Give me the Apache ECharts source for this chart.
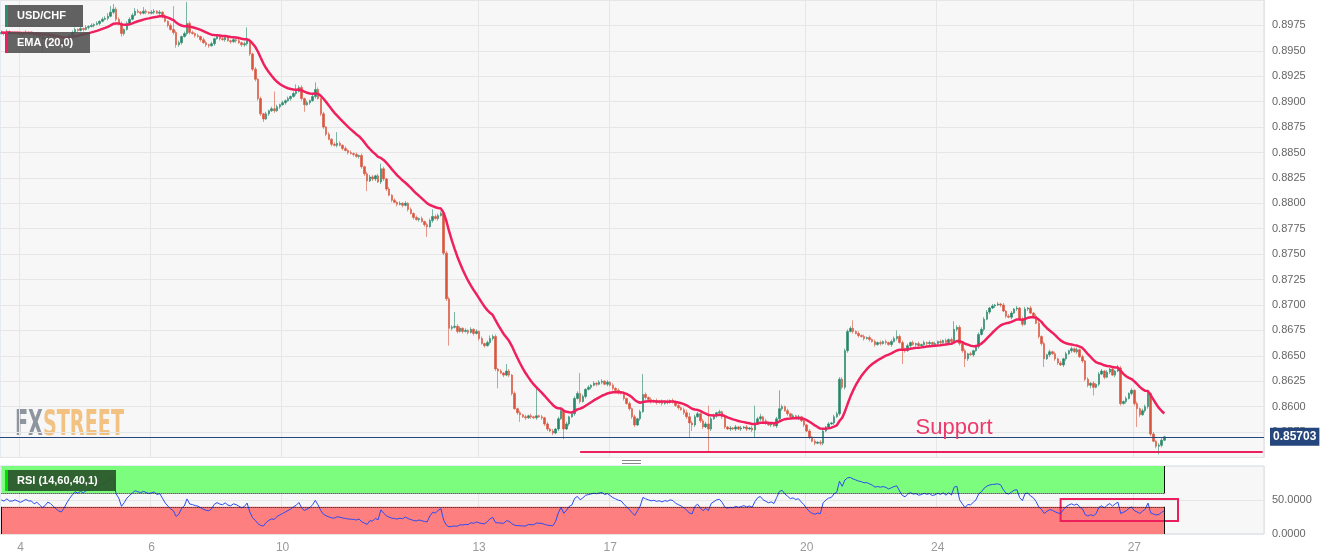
<!DOCTYPE html>
<html><head><meta charset="utf-8">
<script src="https://cdn.jsdelivr.net/npm/echarts@6/dist/echarts.min.js"></script>
<style>html,body{margin:0;padding:0;background:#fff}#c{width:1335px;height:560px}</style>
</head><body><div id="c"></div>
<script>
// ---- data (hourly USD/CHF candles, prices in pips: 8968 = 0.8968) ----
const tradingDays = [3,4,5,6,7,10,11,12,13,14,17,18,19,20,21,24,25,26,27,28];
const firstHour = 17;
const totalSlots = 463;
const tickLabels = ['4','6','10','13','17','20','24','27'];
const firstOpenPips = 8967;
const closePips = [
8968,8967,8969,8967,8967,8968,8967,8966,8967,8968,
8967,8967,8965,8966,8964,8962,8963,8965,8964,8962,
8960,8958,8957,8959,8962,8965,8968,8971,8970,8972,
8971,8973,8974,8975,8976,8977,8979,8981,8982,8984,
8988,8991,8981,8977,8967,8971,8977,8981,8985,8989,
8988,8987,8989,8988,8987,8988,8989,8987,8988,8984,
8979,8975,8971,8968,8956,8958,8964,8967,8977,8968,
8967,8965,8964,8961,8958,8956,8955,8957,8962,8964,
8962,8961,8963,8960,8959,8961,8960,8958,8956,8957,
8960,8947,8932,8922,8903,8888,8883,8888,8891,8893,
8891,8895,8897,8899,8901,8903,8905,8908,8910,8914,
8903,8897,8899,8901,8905,8912,8903,8888,8875,8868,
8863,8858,8857,8859,8857,8854,8852,8850,8849,8848,
8846,8847,8836,8829,8822,8826,8824,8827,8821,8834,
8824,8814,8808,8803,8801,8799,8800,8798,8800,8794,
8790,8786,8784,8785,8782,8779,8777,8783,8787,8785,
8788,8790,8751,8706,8677,8678,8679,8674,8677,8674,
8675,8673,8676,8672,8674,8667,8662,8660,8663,8667,
8669,8637,8635,8633,8631,8635,8631,8613,8598,8594,
8592,8590,8589,8591,8590,8589,8591,8590,8589,8583,
8578,8576,8574,8578,8588,8596,8578,8583,8590,8593,
8608,8613,8605,8610,8617,8619,8621,8623,8622,8624,
8625,8622,8624,8621,8618,8616,8614,8613,8608,8603,
8598,8590,8582,8588,8595,8612,8609,8607,8605,8606,
8604,8605,8603,8605,8604,8606,8605,8601,8599,8597,
8594,8590,8584,8582,8590,8593,8586,8580,8583,8578,
8588,8591,8594,8595,8590,8580,8578,8579,8578,8580,
8578,8579,8580,8578,8579,8577,8583,8588,8590,8586,
8584,8582,8583,8581,8588,8598,8600,8596,8593,8590,
8591,8589,8590,8586,8582,8576,8570,8566,8564,8565,
8564,8576,8580,8583,8584,8590,8593,8627,8619,8655,
8674,8677,8674,8672,8670,8669,8667,8668,8666,8664,
8661,8663,8662,8664,8663,8661,8664,8667,8669,8663,
8657,8655,8660,8663,8661,8662,8660,8661,8663,8662,
8663,8661,8662,8664,8663,8665,8663,8666,8664,8676,
8678,8662,8655,8647,8652,8651,8655,8659,8671,8676,
8686,8693,8697,8699,8700,8701,8700,8694,8689,8688,
8692,8696,8697,8686,8681,8696,8697,8692,8689,8682,
8669,8662,8647,8651,8654,8652,8647,8643,8641,8647,
8652,8655,8657,8654,8656,8649,8645,8627,8621,8623,
8619,8622,8632,8635,8629,8634,8637,8631,8635,8638,
8603,8605,8608,8613,8616,8603,8598,8592,8596,8600,
8613,8573,8566,8561,8562,8567,8570.3];
const wickUpPips = [
2,1,2,1,2,1,1,2,1,2, 1,2,1,2,1,2,1,1,2,1, 2,1,2,1,2,1,2,2,1,2, 1,2,1,2,1,2,1,2,2,3,
6,5,2,2,2,1,2,2,2,3, 2,1,4,2,1,2,2,1,2,1, 2,1,2,23,2,2,1,2,21,2, 2,1,2,1,2,2,1,2,1,2,
1,2,1,2,1,2,1,2,1,2, 13,2,1,2,1,2,1,2,1,2, 17,2,1,2,1,2,1,2,7,2, 2,1,2,1,2,7,2,1,2,1,
2,1,2,11,2,1,2,1,2,1, 2,1,2,1,2,2,2,1,2,5, 2,1,2,1,2,1,2,1,2,1, 2,1,2,1,2,1,2,2,7,2,
2,2,3,2,2,2,14,2,2,1, 2,1,2,1,2,1,2,1,2,3, 2,2,1,2,1,7,2,1,2,1, 2,1,2,1,2,1,29,1,2,1,
2,1,2,1,2,2,1,2,1,2, 2,2,20,2,1,2,1,2,1,2, 2,1,2,1,2,1,2,1,2,1, 2,1,2,1,2,20,2,1,2,1,
2,1,2,1,2,1,2,1,2,1, 2,3,4,2,2,2,1,2,2,18, 2,2,1,2,1,2,1,2,1,2, 1,2,1,2,1,2,18,2,3,1,
2,1,2,1,2,18,2,1,2,1, 2,1,2,1,2,1,2,1,2,1, 2,2,1,2,1,2,2,2,2,2, 2,2,8,1,2,1,2,1,2,1,
2,1,2,1,2,1,2,2,6,2, 2,1,2,1,2,1,2,1,2,1, 2,1,2,1,2,1,2,1,2,8, 2,2,1,2,1,2,1,2,2,2,
2,2,1,2,1,2,1,2,1,2, 2,1,2,1,2,2,1,2,1,2, 2,1,2,1,2,1,2,1,2,1, 2,1,2,1,2,1,2,1,2,1,
2,1,2,2,1,2,1,2,1,3, 2,1,2,1,2,1,2,1,2,2, 2,1,2,1,2,2,1];
const wickDownPips = [
1,2,1,2,1,2,2,1,2,1, 2,1,2,1,2,13,2,1,2,1, 1,2,1,2,1,2,1,1,2,1, 2,1,2,1,2,1,2,1,1,2,
1,2,2,2,3,2,1,2,1,1, 1,2,1,2,1,1,2,1,2,2, 1,2,1,2,3,2,2,1,2,2, 1,2,1,2,1,2,2,1,2,1,
2,1,2,1,2,1,2,1,2,2, 2,2,2,2,2,2,3,1,2,1, 2,1,2,1,2,1,2,1,2,1, 2,7,1,2,1,2,1,2,2,2,
1,2,1,2,1,2,1,2,1,2, 1,2,2,2,10,1,2,2,1,2, 2,2,1,2,1,2,1,2,1,2, 1,2,1,2,1,2,10,1,2,1,
2,1,2,2,17,2,1,2,1,2, 1,2,1,2,1,2,1,2,1,2, 2,2,17,1,2,1,2,2,1,2, 7,1,2,1,2,1,2,1,2,2,
2,1,2,1,2,1,10,1,2,1, 2,1,2,1,2,1,2,1,2,1, 2,1,2,1,2,1,2,1,2,1, 2,2,2,1,2,1,2,1,2,1,
2,1,2,1,2,1,2,1,2,1, 2,2,14,6,2,1,2,2,1,22, 2,1,2,1,2,2,1,2,1,2, 1,2,1,2,1,2,7,1,2,1,
2,1,2,1,2,1,2,1,2,1, 2,1,2,1,2,1,2,1,2,1, 2,2,1,2,1,2,1,2,2,2, 2,1,2,1,2,1,2,1,2,1,
2,1,2,1,2,1,2,1,2,1, 15,2,1,2,1,2,1,2,1,2, 2,1,2,1,2,1,2,1,2,1, 2,2,2,8,2,1,2,1,2,1,
2,1,2,1,2,1,2,1,2,1, 2,1,2,1,2,1,2,1,2,1, 2,2,8,1,2,1,2,2,1,2, 2,1,2,1,2,1,2,2,2,3,
8,1,2,1,2,1,2,1,2,1, 2,1,2,1,2,2,18,2,1,2, 2,2,1,2,8,2,1];
const lastPrice = 0.85703;
const supportLevel = 0.8556;
const emaPeriod = 20;
const rsiPeriod = 14, rsiUpper = 60, rsiLower = 40;

// ---- categories ----
const cats = [];
for (const d of tradingDays) {
  for (let h = (d === tradingDays[0] ? firstHour : 0); h < 24; h++) {
    if (cats.length < totalSlots) cats.push(d + '-' + h);
  }
}
const isTickCat = (v) => { const p = String(v).split('-'); return p[1] === '0' && tickLabels.includes(p[0]); };

// ---- candles ----
const candles = closePips.map((c, i) => {
  const o = i === 0 ? firstOpenPips : closePips[i - 1];
  const hi = Math.max(o, c) + (wickUpPips[i] || 0);
  const lo = Math.min(o, c) - (wickDownPips[i] || 0);
  return [o / 1e4, c / 1e4, lo / 1e4, hi / 1e4];
});
// EMA(20)
const ema = []; const k = 2 / (emaPeriod + 1);
closePips.forEach((c, i) => { const v = c / 1e4; ema.push(i === 0 ? v : ema[i - 1] + k * (v - ema[i - 1])); });
// RSI(14), Wilder smoothing
const rsi = []; let ag = 1.2, al = 1.2;
closePips.forEach((c, i) => {
  if (i === 0) { rsi.push(50); return; }
  const ch = c - closePips[i - 1];
  ag = (ag * (rsiPeriod - 1) + Math.max(ch, 0)) / rsiPeriod;
  al = (al * (rsiPeriod - 1) + Math.max(-ch, 0)) / rsiPeriod;
  rsi.push(al === 0 ? 100 : 100 - 100 / (1 + ag / al));
});
const lastIdx = closePips.length - 1;

// watermark sizing
const mc = document.createElement('canvas').getContext('2d');
const wmFont = 'bold 36px "Liberation Sans Narrow", "DejaVu Sans Condensed", "Liberation Sans", sans-serif';
mc.font = wmFont;
const wFX = mc.measureText('FX').width, wST = mc.measureText('STREET').width;
const wmScale = 109 / (wFX + wST);

const chart = echarts.init(document.getElementById('c'), null, { renderer: 'canvas' });
const gridLine = '#e6e6e6';
const fontFam = '"Liberation Sans", Arial, sans-serif';
const navy = '#24467c';
chart.setOption({
  animation: false,
  backgroundColor: '#ffffff',
  grid: [
    { left: 0, top: -0.44, width: 1264, height: 457.9, show: true, backgroundColor: '#f7f7f7', borderColor: '#d3dbea', borderWidth: 1 },
    { left: 0, top: 466, width: 1264, height: 68, show: true, backgroundColor: '#f7f7f7', borderColor: '#d3dbea', borderWidth: 1 }
  ],
  xAxis: [
    { type: 'category', gridIndex: 0, data: cats, boundaryGap: true,
      axisLine: { show: false }, axisTick: { show: false }, axisLabel: { show: false },
      splitLine: { show: true, interval: (i, v) => isTickCat(v), lineStyle: { color: gridLine, width: 1 } } },
    { type: 'category', gridIndex: 1, data: cats, boundaryGap: true,
      axisLine: { show: false }, axisTick: { show: false },
      axisLabel: { show: true, interval: (i, v) => isTickCat(v), formatter: (v) => String(v).split('-')[0],
        color: '#9a9a9a', fontSize: 12, margin: 8, fontFamily: fontFam },
      splitLine: { show: true, interval: (i, v) => isTickCat(v), lineStyle: { color: gridLine, width: 1 } } }
  ],
  yAxis: [
    { type: 'value', gridIndex: 0, position: 'right', min: 0.855, max: 0.9, interval: 0.0025,
      axisLine: { show: false }, axisTick: { show: false },
      axisLabel: { margin: 8, color: '#666', fontSize: 11, fontFamily: fontFam,
        formatter: (v) => (v > 0.8999 || v < 0.8551) ? '' : v.toFixed(4) },
      splitLine: { show: true, lineStyle: { color: gridLine, width: 1 } } },
    { type: 'value', gridIndex: 1, position: 'right', min: 0, max: 100, interval: 50,
      axisLine: { show: false }, axisTick: { show: false },
      axisLabel: { margin: 8, color: '#666', fontSize: 11, fontFamily: fontFam,
        formatter: (v) => v >= 100 ? '' : v.toFixed(4) },
      splitLine: { show: true, lineStyle: { color: gridLine, width: 1 } } }
  ],
  series: [
    { type: 'candlestick', name: 'USD/CHF', xAxisIndex: 0, yAxisIndex: 0, data: candles, barWidth: 2, clip: true,
      itemStyle: { color: '#26876a', color0: '#d9553e', borderColor: '#26876a', borderColor0: '#d9553e', borderWidth: 0.6 },
      markLine: { silent: true, symbol: 'none', animation: false, precision: 6,
        lineStyle: { color: '#ea1f5c', width: 2, type: 'solid' }, label: { show: false },
        data: [
          [ { coord: [cats[212], supportLevel] }, { coord: [cats[totalSlots - 1], supportLevel] } ]
        ] },
      markPoint: { silent: true, symbol: 'circle', symbolSize: 1, itemStyle: { color: 'rgba(0,0,0,0)' },
        data: [ { coord: [cats[349], 0.85789], label: { show: true, position: 'inside', formatter: 'Support',
          color: '#ec3a6c', fontSize: 22, fontFamily: fontFam } } ] }
    },
    { type: 'line', name: 'EMA', xAxisIndex: 0, yAxisIndex: 0, data: ema, showSymbol: false, symbol: 'none',
      lineStyle: { color: '#f0205e', width: 2.5 }, z: 3,
      markLine: { silent: true, symbol: 'none', animation: false, precision: 6,
        lineStyle: { color: navy, width: 1, type: 'solid', opacity: 1 },
        label: { show: true, position: 'end', distance: 6, formatter: lastPrice.toFixed(5), color: '#fff',
          backgroundColor: navy, padding: [3, 3, 3, 3], fontSize: 12, fontWeight: 'bold', fontFamily: fontFam },
        data: [ { yAxis: lastPrice } ] } },
    { type: 'line', name: 'RSI', xAxisIndex: 1, yAxisIndex: 1, data: rsi, showSymbol: false, symbol: 'none',
      lineStyle: { color: '#2a4cf2', width: 1 }, z: 4,
      markArea: { silent: true, data: [
        [ { coord: [cats[0], rsiUpper], itemStyle: { color: '#7dfd7d' } }, { coord: [cats[lastIdx], 100] } ],
        [ { coord: [cats[0], 0], itemStyle: { color: '#fd7f7f' } }, { coord: [cats[lastIdx], rsiLower] } ],
        [ { coord: [cats[388], 51.5], itemStyle: { color: 'rgba(0,0,0,0)', borderColor: '#ea1f5c', borderWidth: 2 } }, { coord: [cats[431], 19] } ]
      ] },
      markLine: { silent: true, symbol: 'none', label: { show: false }, data: [
        [ { coord: [cats[0], rsiUpper], lineStyle: { color: '#111', type: 'dotted', width: 1 } }, { coord: [cats[lastIdx], rsiUpper] } ],
        [ { coord: [cats[0], rsiLower], lineStyle: { color: '#111', type: 'dotted', width: 1 } }, { coord: [cats[lastIdx], rsiLower] } ],
        [ { coord: [cats[lastIdx], 0], lineStyle: { color: '#111', type: 'solid', width: 1 } }, { coord: [cats[lastIdx], rsiLower] } ],
        [ { coord: [cats[lastIdx], rsiUpper], lineStyle: { color: '#111', type: 'solid', width: 1 } }, { coord: [cats[lastIdx], 100] } ],
        [ { coord: [cats[0], 0], lineStyle: { color: '#111', type: 'solid', width: 1 } }, { coord: [cats[0], rsiLower] } ]
      ] }
    }
  ],
  graphic: [
    { type: 'group', x: 15, y: 408, scaleX: wmScale, z: 1, silent: true, children: [
      { type: 'text', x: 0, y: 0, style: { text: 'FX', font: wmFont, fill: '#8f959e', verticalAlign: 'top' } },
      { type: 'text', x: wFX, y: 0, style: { text: 'STREET', font: wmFont, fill: '#f2c283', verticalAlign: 'top' } }
    ] },
    { type: 'rect', z: 20, shape: { x: 5, y: 5, width: 78, height: 22 }, style: { fill: 'rgba(80,80,80,0.9)' } },
    { type: 'rect', z: 21, shape: { x: 5, y: 5, width: 3, height: 22 }, style: { fill: '#2e8b6e' } },
    { type: 'text', z: 21, x: 17, y: 16, style: { text: 'USD/CHF', fill: '#fff', font: 'bold 11px "Liberation Sans", Arial, sans-serif', verticalAlign: 'middle' } },
    { type: 'rect', z: 20, shape: { x: 5, y: 32, width: 85, height: 21 }, style: { fill: 'rgba(80,80,80,0.88)' } },
    { type: 'rect', z: 21, shape: { x: 5, y: 32, width: 3, height: 21 }, style: { fill: '#ee1f5e' } },
    { type: 'text', z: 21, x: 17, y: 42.5, style: { text: 'EMA (20,0)', fill: '#fff', font: 'bold 11px "Liberation Sans", Arial, sans-serif', verticalAlign: 'middle' } },
    { type: 'rect', z: 20, shape: { x: 5, y: 470, width: 111, height: 21 }, style: { fill: 'rgba(44,88,44,0.95)' } },
    { type: 'rect', z: 21, shape: { x: 5, y: 470, width: 3, height: 21 }, style: { fill: '#00dd00' } },
    { type: 'text', z: 21, x: 17, y: 480.5, style: { text: 'RSI (14,60,40,1)', fill: '#fff', font: 'bold 11px "Liberation Sans", Arial, sans-serif', verticalAlign: 'middle' } },
    { type: 'line', z: 5, shape: { x1: 622, y1: 460.5, x2: 641, y2: 460.5 }, style: { stroke: '#888', lineWidth: 1 } },
    { type: 'line', z: 5, shape: { x1: 622, y1: 463.5, x2: 641, y2: 463.5 }, style: { stroke: '#888', lineWidth: 1 } }
  ]
});
</script></body></html>
